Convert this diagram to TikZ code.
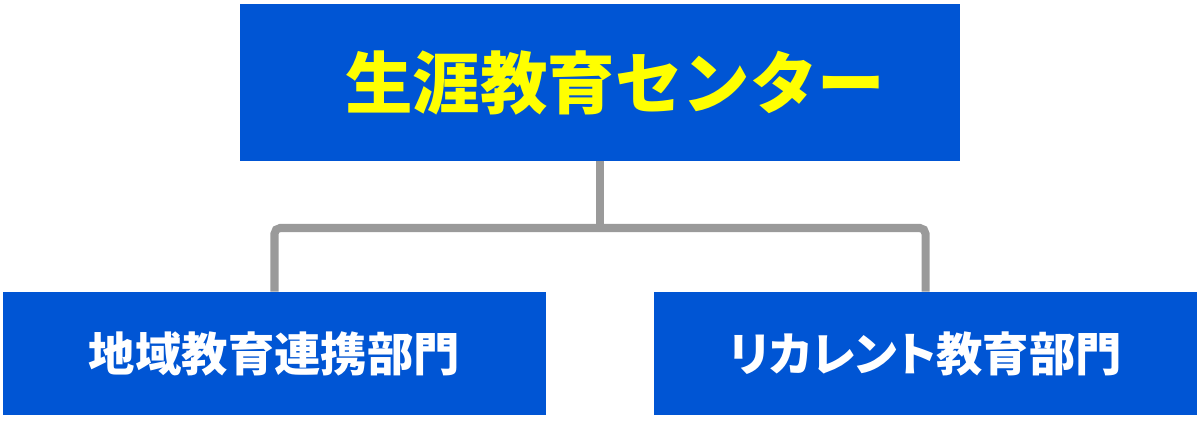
\documentclass[tikz,border=0pt]{standalone}
\usepackage{fontspec}
\newfontfamily\jpfont{Noto Sans CJK JP}
\newfontfamily\jpfontp{Noto Sans CJK JP}[RawFeature=+palt]
\usepackage{tikz}
\usetikzlibrary{positioning}
\usepackage{xcolor}
\definecolor{mblue}{HTML}{0055D4}
\definecolor{myellow}{HTML}{FFFF00}
\definecolor{mgrey}{HTML}{9A9A9A}
\tikzstyle{l2}=[line width=5.7pt]
\tikzstyle{unit}=[rectangle, fill=mblue, inner sep=0pt, font=\jpfont\bfseries]
\tikzstyle{head}=[unit, minimum width=18cm, minimum height=3.925cm, text=myellow, font=\jpfont\bfseries\fontsize{48}{56}\selectfont]
\tikzstyle{dept}=[unit, minimum width=13.575cm, minimum height=3.075cm, text=white, font=\jpfont\bfseries\fontsize{33}{40}\selectfont]
\tikzstyle{tree}=[l2, color=mgrey, rounded corners=4pt]

\begin{document}
\begin{tikzpicture}[x=0.025cm, y=-0.025cm]
    \useasboundingbox (0,0) rectangle (1200,420);

    \node (center) [head] at (600,82.5) {\hspace*{.75cm}生涯教育センター};
    \node (local) [dept] at (274.5,353.5) {地域教育連携部門};
    \node (recur) [dept, font=\jpfontp\bfseries\fontsize{33}{40}\selectfont] at (925.5,353.5) {リカレント教育部門};

    \coordinate (joint) at (600,228);
    \draw[tree] (center.south) -- (joint);
    \draw[tree] (local.north) |- (joint) -| (recur.north);
\end{tikzpicture}
\end{document}
